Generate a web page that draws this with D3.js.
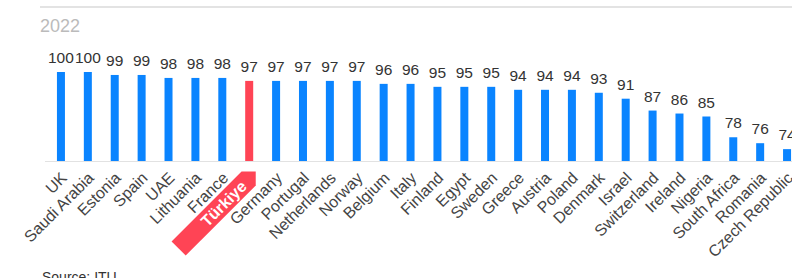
<!DOCTYPE html>
<html>
<head>
<meta charset="utf-8">
<script src="https://cdn.jsdelivr.net/npm/d3@7"></script>
<style>
  body { margin: 0; background: #fff; }
  svg { font-family: "Liberation Sans", Arial, sans-serif; }
</style>
</head>
<body>
<svg id="chart" width="792" height="278"></svg>
<script>
const countries = ["UK", "Saudi Arabia", "Estonia", "Spain", "UAE", "Lithuania", "France", "Türkiye",
  "Germany", "Portugal", "Netherlands", "Norway", "Belgium", "Italy", "Finland", "Egypt", "Sweden",
  "Greece", "Austria", "Poland", "Denmark", "Israel", "Switzerland", "Ireland", "Nigeria",
  "South Africa", "Romania", "Czech Republic"];
const values = [100, 100, 99, 99, 98, 98, 98, 97, 97, 97, 97, 97, 96, 96, 95, 95, 95, 94, 94, 94,
  93, 91, 87, 86, 85, 78, 76, 74];
const highlight = "Türkiye";
const yearLabel = "2022";
const sourceLabel = "Source: ITU";

const svg = d3.select("#chart");
const width = 792;
const baseY = 161;

const x = d3.scaleBand().domain(countries).range([47.5, 800.5]);
const y = d3.scaleLinear().domain([70, 100]).range([baseY, 72]);
const barW = 8;
const cx = (d) => x(d) + x.bandwidth() / 2;

const blue = "#0a84ff";
const red = "#ff4455";

// top rule + year
svg.append("line")
  .attr("x1", 40).attr("x2", width).attr("y1", 7).attr("y2", 7)
  .attr("stroke", "#e3e3e3").attr("stroke-width", 2);
svg.append("text")
  .attr("x", 40).attr("y", 32)
  .attr("font-size", 18).attr("fill", "#bbb")
  .text(yearLabel);

// baseline
svg.append("line")
  .attr("x1", 45).attr("x2", width).attr("y1", baseY + 0.5).attr("y2", baseY + 0.5)
  .attr("stroke", "#e2e2e2").attr("stroke-width", 1);

const data = countries.map((c, i) => ({ c, v: values[i] }));

svg.append("g").selectAll("rect")
  .data(data)
  .join("rect")
  .attr("x", (d) => cx(d.c) - barW / 2)
  .attr("y", (d) => y(d.v))
  .attr("width", barW)
  .attr("height", (d) => baseY - y(d.v))
  .attr("fill", (d) => (d.c === highlight ? red : blue));

svg.append("g").selectAll("text")
  .data(data)
  .join("text")
  .attr("x", (d) => cx(d.c))
  .attr("y", (d) => y(d.v) - 9)
  .attr("text-anchor", "middle")
  .attr("font-size", 15.5)
  .attr("fill", "#333")
  .text((d) => d.v);

// x labels, rotated
const labels = svg.append("g").selectAll("g")
  .data(countries)
  .join("g")
  .attr("transform", (d) => `translate(${cx(d) + 3},${baseY + 14}) rotate(-45)`);

labels.filter((d) => d === highlight)
  .append("path")
  .attr("d", "M-104,-10 L-5,-10 L5,0 L-5,10 L-104,10 Z")
  .attr("fill", red);

labels.append("text")
  .attr("text-anchor", "end")
  .attr("dy", "0.35em")
  .attr("x", (d) => (d === highlight ? -12 : 0))
  .attr("font-size", 16)
  .attr("font-weight", (d) => (d === highlight ? "bold" : "normal"))
  .attr("fill", (d) => (d === highlight ? "#fff" : "#444"))
  .text((d) => d);

svg.append("text")
  .attr("x", 42).attr("y", 282)
  .attr("font-size", 14).attr("fill", "#333")
  .text(sourceLabel);
</script>
</body>
</html>
